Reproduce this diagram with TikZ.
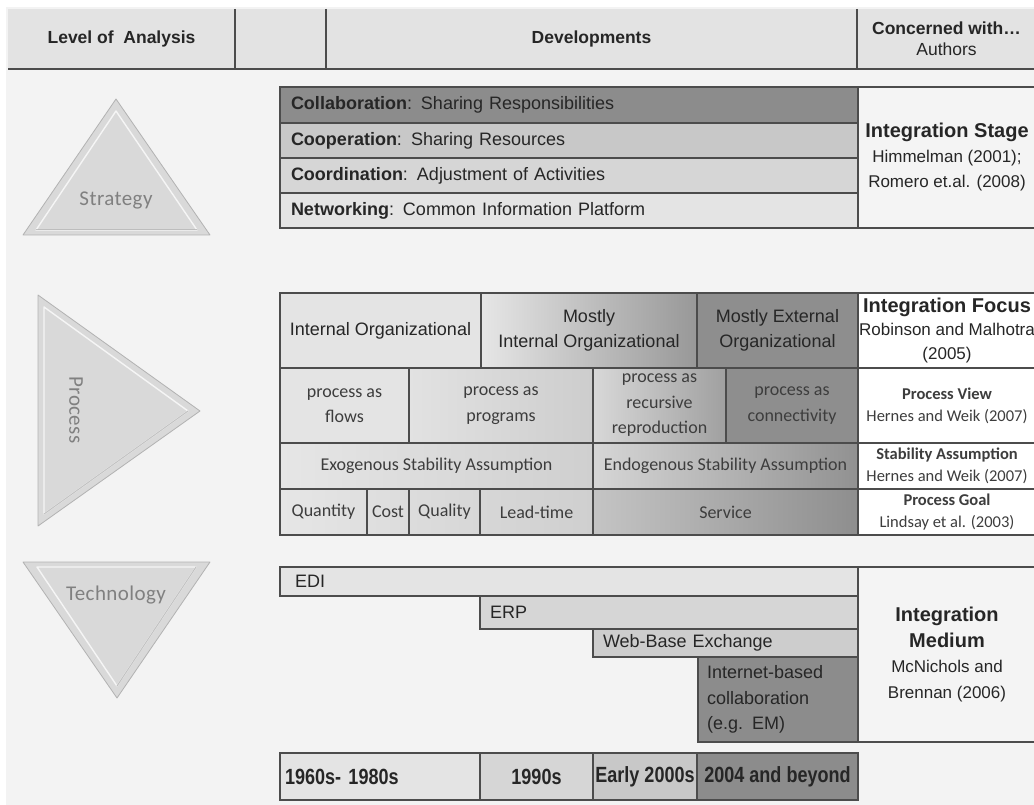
\documentclass[tikz,border=0pt]{standalone}
\usepackage{fontspec}
\setmainfont{Liberation Sans}
\newfontfamily\calf{Carlito}
\newfontfamily\calsp[LetterSpace=2]{Carlito}
\newfontfamily\narrowf[FakeStretch=0.82]{Liberation Sans}
\usetikzlibrary{calc}
\definecolor{bgc}{gray}{0.953}
\definecolor{hdrc}{gray}{0.89}
\definecolor{linec}{gray}{0.30}
\definecolor{txtc}{gray}{0.15}
\definecolor{ctxt}{gray}{0.24}
\definecolor{authc}{gray}{0.957}
\definecolor{c140}{gray}{0.549}
\definecolor{c142}{gray}{0.557}
\definecolor{c145}{gray}{0.569}
\definecolor{c152}{gray}{0.596}
\definecolor{c160}{gray}{0.627}
\definecolor{c196}{gray}{0.769}
\definecolor{c200}{gray}{0.784}
\definecolor{c205}{gray}{0.804}
\definecolor{c207}{gray}{0.812}
\definecolor{c214}{gray}{0.839}
\definecolor{c215}{gray}{0.843}
\definecolor{c216}{gray}{0.847}
\definecolor{c220}{gray}{0.863}
\definecolor{c223}{gray}{0.875}
\definecolor{c226}{gray}{0.886}
\definecolor{c228}{gray}{0.894}
\definecolor{c230}{gray}{0.902}
\definecolor{trif}{gray}{0.85}
\definecolor{tril}{gray}{0.70}
\definecolor{tritxt}{gray}{0.50}
\newcommand\bigb{\bfseries\fontsize{20}{25}\selectfont}
\newcommand\cell[7][]{\node[cellbox,minimum width={#5-#3},minimum height={#6-#4},#1] (#2) at ({(#3+#5)/2},{(#4+#6)/2}) {#7};}
\newcommand\lcell[8][]{\pgfmathsetmacro\celltw{#5-#3-2*#7}\node[cellbox,align=left,inner xsep=#7pt,text width=\celltw pt,minimum width={#5-#3},minimum height={#6-#4},#1] (#2) at ({(#3+#5)/2},{(#4+#6)/2}) {#8};}
\begin{document}
\begin{tikzpicture}[x=1pt,y=-1pt,
  cellbox/.style={draw=linec,line width=1.2pt,inner sep=0pt,outer sep=0pt,align=center,text=txtc,font=\fontsize{18}{25.5}\selectfont},
  hdrbox/.style={draw=none,fill=hdrc,font=\bfseries\fontsize{17.5}{20}\selectfont},
  hline/.style={draw=linec,line width=1.6pt},
  calt/.style={font=\calf\fontsize{18}{25.5}\selectfont,text=ctxt},
  authA/.style={fill=authc,font=\fontsize{17}{25}\selectfont,text=txtc},
  authP/.style={fill=white,font=\calf\fontsize{16.5}{22}\selectfont,text=ctxt},
  yrs/.style={font=\narrowf\bfseries\fontsize{22}{25}\selectfont},
  tri/.style={fill=trif,draw=tril,line width=0.8pt,line join=round},
  bevel/.style={draw=white,opacity=0.75,line width=1.4pt,line join=round},
  shade/.style={draw=gray!75,opacity=0.6,line width=1pt,line cap=round},
  trilabel/.style={font=\calsp\fontsize{21}{25}\selectfont,text=tritxt,inner sep=0pt}]
\useasboundingbox (0,0) rectangle (1034,805);
\fill[white] (0,0) rectangle (1034,805);
\fill[bgc] (6,7) rectangle (1034,805);
% header
\cell[hdrbox]{h1}{8}{9}{235}{69}{Level of\ \ Analysis}
\cell[hdrbox]{h2}{235}{9}{326}{69}{}
\cell[hdrbox]{h3}{326}{9}{857}{69}{Developments}
\cell[hdrbox,font=\fontsize{17.5}{21}\selectfont]{h4}{857}{9}{1036}{69}{\textbf{Concerned with\ldots}\\Authors}
\draw[hline] (h1.south west) -- (h4.south east);
\draw[hline,line width=1.2pt] (h1.north east) -- (h1.south east);
\draw[hline,line width=1.2pt] (h2.north east) -- (h2.south east);
\draw[hline,line width=1.2pt] (h3.north east) -- (h3.south east);
% triangles
\filldraw[tri] (116,99) -- (210,235) -- (23,235) -- cycle;
\draw[bevel] (116,111) -- (197,230) -- (36,230) -- cycle;
\draw[shade] (197,230) -- (36,230);
\node[trilabel] (lstrat) at (116,200) {Strategy};
\filldraw[tri] (38,295) -- (200,411) -- (38,526) -- cycle;
\draw[bevel] (44,307) -- (188,411) -- (44,514) -- cycle;
\draw[shade] (188,411) -- (44,514);
\node[trilabel,rotate=-90] (lproc) at (76,410) {Process};
\filldraw[tri] (23,562) -- (210,562) -- (117,698) -- cycle;
\draw[bevel] (37,567) -- (196,567) -- (117,686) -- cycle;
\draw[shade] (196,567) -- (117,686);
\node[trilabel] (ltech) at (116,595) {Technology};
% strategy
\lcell[fill=c140]{s1}{280}{87}{858}{123}{11}{\textbf{Collaboration}: Sharing Responsibilities}
\lcell[fill=c200]{s2}{280}{123}{858}{158}{11}{\textbf{Cooperation}: Sharing Resources}
\lcell[fill=c214]{s3}{280}{158}{858}{193}{11}{\textbf{Coordination}: Adjustment of Activities}
\lcell[fill=c228]{s4}{280}{193}{858}{228}{11}{\textbf{Networking}: Common Information Platform}
\cell[authA]{sa}{858}{87}{1036}{228}{{\bigb Integration Stage}\\Himmelman (2001);\\Romero et.al. (2008)}
% process row 1
\cell[fill=c228]{p11}{280}{293}{481}{368}{Internal Organizational}
\cell[left color=c230,right color=c152]{p12}{481}{293}{697}{368}{Mostly\\Internal Organizational}
\cell[fill=c142]{p13}{697}{293}{858}{368}{Mostly External\\Organizational}
\cell[authA,fill=white,font=\fontsize{17}{23.5}\selectfont]{pa1}{858}{293}{1036}{368}{{\bigb Integration Focus}\\Robinson and Malhotra\\(2005)}
% process row 2
\cell[calt,fill=c228]{p21}{280}{368}{409}{443}{process as\\flows}
\cell[calt,left color=c226,right color=c205]{p22}{409}{368}{593}{443}{process as\\programs}
\cell[calt,left color=c216,right color=c160]{p23}{593}{368}{726}{443}{process as\\recursive\\reproduction}
\cell[calt,fill=c142]{p24}{726}{368}{858}{443}{process as\\connectivity}
\cell[authP]{pa2}{858}{368}{1036}{443}{\textbf{Process View}\\Hernes and Weik (2007)}
% process row 3
\cell[calt,left color=c230,right color=c207]{p31}{280}{443}{593}{489}{Exogenous Stability Assumption}
\cell[calt,left color=c214,right color=c145]{p32}{593}{443}{858}{489}{Endogenous Stability Assumption}
\cell[authP]{pa3}{858}{443}{1036}{489}{\textbf{Stability Assumption}\\Hernes and Weik (2007)}
% process row 4
\cell[calt,left color=c230,right color=c223]{p41}{280}{489}{367}{535}{Quantity}
\cell[calt,left color=c223,right color=c220]{p42}{367}{489}{409}{535}{Cost}
\cell[calt,left color=c220,right color=c215]{p43}{409}{489}{480}{535}{Quality}
\cell[calt,left color=c215,right color=c207]{p44}{480}{489}{593}{535}{Lead-time}
\cell[calt,left color=c196,right color=c142]{p45}{593}{489}{858}{535}{Service}
\cell[authP]{pa4}{858}{489}{1036}{535}{\textbf{Process Goal}\\Lindsay et al. (2003)}
% technology
\lcell[fill=c228]{t1}{280}{567}{858}{596}{15}{EDI}
\lcell[fill=c214]{t2}{480}{596}{858}{629}{10}{ERP}
\lcell[fill=c205]{t3}{593}{629}{858}{657}{10}{Web-Base Exchange}
\lcell[fill=c140]{t4}{698}{657}{858}{742}{9}{Internet-based\\collaboration\\(e.g. EM)}
\cell[authA,font=\fontsize{17}{25.7}\selectfont]{ta}{858}{567}{1036}{742}{{\bigb Integration}\\{\bigb Medium}\\McNichols and\\Brennan (2006)}
% years
\lcell[fill=c228,yrs]{b1}{280}{753}{480}{800}{5}{1960s- 1980s}
\cell[fill=c214,yrs]{b2}{480}{753}{593}{800}{1990s}
\cell[fill=c200,yrs]{b3}{593}{753}{697}{800}{Early 2000s}
\cell[fill=c140,yrs]{b4}{697}{753}{858}{800}{2004 and beyond}
\end{tikzpicture}
\end{document}
